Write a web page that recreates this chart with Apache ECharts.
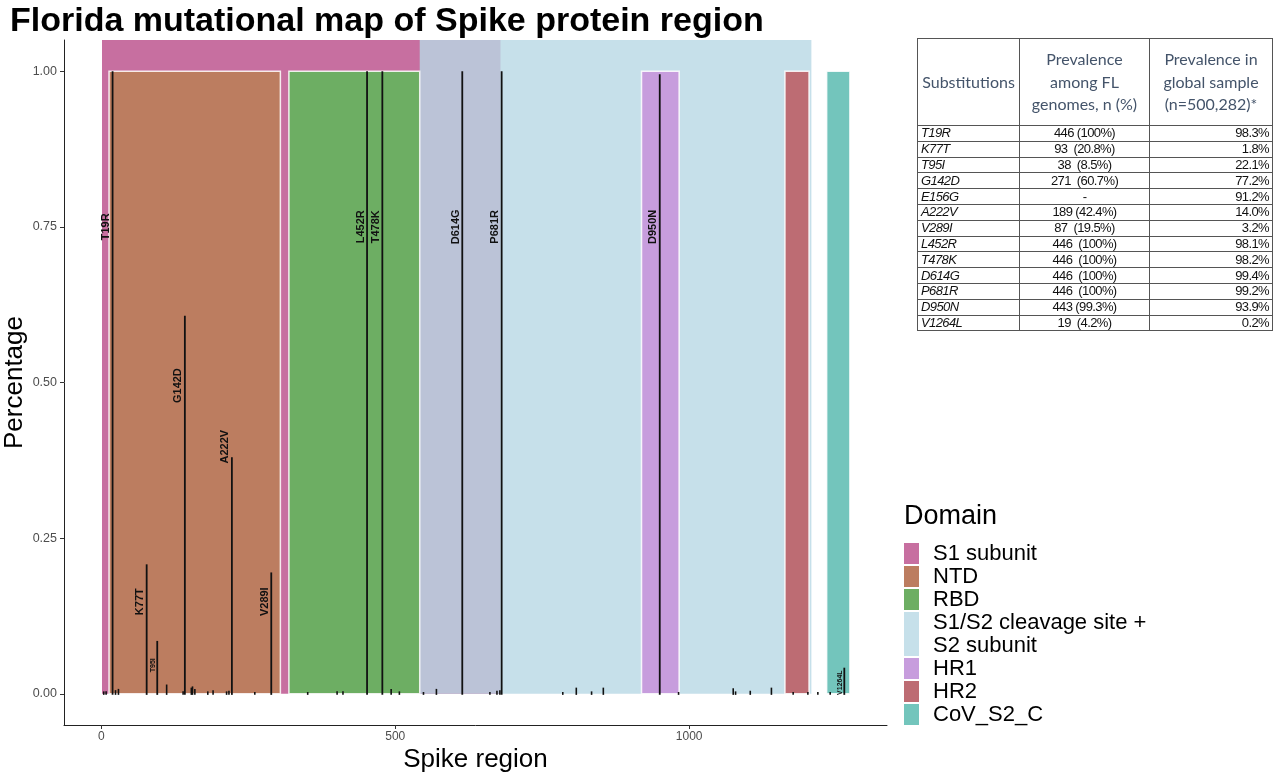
<!DOCTYPE html>
<html><head><meta charset="utf-8">
<script src="https://cdn.jsdelivr.net/npm/echarts@6/dist/echarts.min.js"></script>
<style>
html,body{margin:0;padding:0;background:#fff;}
#chart{position:absolute;left:0;top:0;width:1280px;height:780px;}
#tbl{position:absolute;left:917px;top:38px;border-collapse:collapse;table-layout:fixed;width:355px;}
#tbl td{border:1px solid #555;padding:0 3px;overflow:hidden;white-space:nowrap;}
#tbl tr.hd td{height:86px;font-family:Lato,"Open Sans",sans-serif;font-weight:400;font-size:16px;line-height:22.5px;color:#44546a;text-align:center;white-space:normal;}
#tbl tr.bd td{height:14.8px;font-family:"Liberation Sans Narrow","Liberation Sans",Arial,sans-serif;font-size:13px;letter-spacing:-0.6px;line-height:14px;color:#111;}
#tbl td.c1{font-style:italic;text-align:left;}
#tbl td.c2{text-align:center;}
#tbl td.c3{text-align:right;}
</style></head><body>
<div id="chart"></div>
<table id="tbl"></table>
<script>
// ---- data ----
const domainNames = ['S1 subunit', 'S1/S2 cleavage site + S2 subunit', 'NTD', 'RBD', 'HR1', 'HR2', 'CoV_S2_C'];
const domainStart = [1, 541.6, 13, 319, 919, 1163, 1234];
const domainEnd   = [679, 1208, 304.5, 541.6, 983, 1204, 1273.5];
const domainTop   = [1.05, 1.05, 1, 1, 1, 1, 1];

const mutLabels = ['T19R','K77T','T95I','G142D','A222V','V289I','L452R','T478K','D614G','P681R','D950N','V1264L'];
const mutPos    = [19, 77, 95, 142, 222, 289, 452, 478, 614, 681, 950, 1264];
const mutFreq   = [1.0, 0.208, 0.085, 0.607, 0.38, 0.195, 1.0, 1.0, 1.0, 1.0, 0.995, 0.042];
const mutLabelY = [0.75, 0.148, 0.046, 0.495, 0.397, 0.148, 0.75, 0.75, 0.75, 0.75, 0.75, 0.018];

const minorPos  = [4, 8, 24, 29, 111, 139, 153, 155, 159, 181, 190, 213, 217, 261, 351, 401, 411, 493, 507, 548, 570, 661, 673, 678, 785, 808, 834, 854, 982, 1075, 1079, 1104, 1140, 1177, 1202, 1219, 1240];
const minorFreq = [0.004, 0.004, 0.006, 0.008, 0.015, 0.004, 0.01, 0.012, 0.008, 0.004, 0.006, 0.004, 0.005, 0.003, 0.003, 0.004, 0.004, 0.008, 0.004, 0.003, 0.008, 0.003, 0.005, 0.006, 0.003, 0.01, 0.004, 0.01, 0.003, 0.009, 0.004, 0.005, 0.01, 0.003, 0.003, 0.003, 0.003];

const xTicks = [0, 500, 1000];
const yTicks = [0, 0.25, 0.5, 0.75, 1];

const legendNames = ['S1 subunit', 'NTD', 'RBD', 'S1/S2 cleavage site +\nS2 subunit', 'HR1', 'HR2', 'CoV_S2_C'];

const tblSubs   = ['T19R','K77T','T95I','G142D','E156G','A222V','V289I','L452R','T478K','D614G','P681R','D950N','V1264L'];
const tblFL     = ['446 (100%)','93  (20.8%)','38  (8.5%)','271  (60.7%)','-','189 (42.4%)','87  (19.5%)','446  (100%)','446  (100%)','446  (100%)','446  (100%)','443 (99.3%)','19  (4.2%)'];
const tblGlobal = ['98.3%','1.8%','22.1%','77.2%','91.2%','14.0%','3.2%','98.1%','98.2%','99.4%','99.2%','93.9%','0.2%'];

// ---- styles ----
const domainColors = ['#C76FA0', 'rgba(184,216,229,0.8)', '#BC7D60', '#6DAE63', '#C79DDD', '#BD6C73', '#73C5BC'];
const domainBorder = [false, false, true, true, true, true, true];
const legendColors = ['#C76FA0', '#BC7D60', '#6DAE63', '#C6E0EA', '#C79DDD', '#BD6C73', '#73C5BC'];
const FONT = '"Liberation Sans", Arial, Helvetica, sans-serif';

// ---- table ----
(function(){
  const t = document.getElementById('tbl');
  let h = '<colgroup><col style="width:102px"><col style="width:130px"><col style="width:123px"></colgroup>';
  h += '<tr class="hd"><td>Substitutions</td><td>Prevalence<br>among FL<br>genomes, n (%)</td><td>Prevalence in<br>global sample<br>(n=500,282)*</td></tr>';
  for (let i = 0; i < tblSubs.length; i++) {
    h += '<tr class="bd"><td class="c1">' + tblSubs[i] + '</td><td class="c2">' + tblFL[i].replace(/  /g,'&nbsp; ') + '</td><td class="c3">' + tblGlobal[i] + '</td></tr>';
  }
  t.innerHTML = h;
})();

// ---- chart ----
const chart = echarts.init(document.getElementById('chart'), null, {renderer: 'canvas'});

const domainData = domainNames.map((n, i) => [domainStart[i], domainEnd[i], domainTop[i], i]);
const mutData = mutPos.map((p, i) => [p, mutFreq[i], mutLabelY[i], i]);
const minorData = minorPos.map((p, i) => [p, minorFreq[i]]);

// legend graphics
const legendGraphics = [];
legendGraphics.push({type: 'text', left: 904, top: 503, style: {text: 'Domain', font: '27px ' + FONT, fill: '#000'}});
let ly = 542;
legendNames.forEach((n, i) => {
  const lines = n.split('\n').length;
  const h = 23 * lines;
  legendGraphics.push({type: 'rect', shape: {x: 904, y: ly + 1, width: 15, height: h - 2}, style: {fill: legendColors[i]}});
  legendGraphics.push({type: 'text', x: 933, y: ly + h / 2, style: {text: n, font: '22px ' + FONT, fill: '#000', verticalAlign: 'middle', lineHeight: 23}});
  ly += h;
});

const option = {
  animation: false,
  backgroundColor: '#fff',
  title: {text: 'Florida mutational map of Spike protein region', left: 5, top: 0,
    textStyle: {fontSize: 34, fontWeight: 'bold', color: '#000', fontFamily: FONT}},
  grid: {left: 64, right: 393, top: 40, bottom: 55, containLabel: false, outerBoundsMode: 'none'},
  xAxis: {
    type: 'value', min: -63.65, max: 1336.65, splitLine: {show: false},
    axisLine: {onZero: false, lineStyle: {color: '#222', width: 1}},
    axisTick: {customValues: xTicks, length: 4, lineStyle: {color: '#333'}},
    axisLabel: {customValues: xTicks, color: '#4d4d4d', fontSize: 12, margin: 6, fontFamily: FONT,
      formatter: v => String(Math.round(v))},
    name: 'Spike region', nameLocation: 'middle', nameGap: 22, nameMoveOverlap: false,
    nameTextStyle: {fontSize: 26, color: '#000', fontFamily: FONT}
  },
  yAxis: {
    type: 'value', min: -0.05, max: 1.05, splitLine: {show: false},
    axisLine: {onZero: false, lineStyle: {color: '#222', width: 1}},
    axisTick: {customValues: yTicks, length: 4, lineStyle: {color: '#333'}},
    axisLabel: {customValues: yTicks, color: '#4d4d4d', fontSize: 12.5, margin: 7, fontFamily: FONT,
      formatter: v => v.toFixed(2)},
    name: 'Percentage', nameLocation: 'middle', nameGap: 36, nameRotate: 90, nameMoveOverlap: false,
    nameTextStyle: {fontSize: 26, color: '#000', fontFamily: FONT}
  },
  graphic: legendGraphics,
  series: [
    {
      type: 'custom', name: 'domains', clip: false, silent: true,
      data: domainData, encode: {x: [0, 1], y: 2},
      renderItem: function (params, api) {
        const i = api.value(3);
        const a = api.coord([api.value(0), api.value(2)]);
        const b = api.coord([api.value(1), 0]);
        return {type: 'rect', shape: {x: a[0], y: a[1], width: b[0] - a[0], height: b[1] - a[1]},
          style: {fill: domainColors[i], stroke: domainBorder[i] ? 'rgba(255,255,255,0.85)' : null, lineWidth: domainBorder[i] ? 1.5 : 0}};
      }
    },
    {
      type: 'custom', name: 'minor', clip: false, silent: true,
      data: minorData, encode: {x: 0, y: 1},
      renderItem: function (params, api) {
        const a = api.coord([api.value(0), 0]);
        const b = api.coord([api.value(0), api.value(1)]);
        return {type: 'line', shape: {x1: a[0], y1: a[1] + 1, x2: b[0], y2: Math.min(b[1], a[1] - 1)},
          style: {stroke: '#111', lineWidth: 1.6}};
      }
    },
    {
      type: 'custom', name: 'mutations', clip: false, silent: true,
      data: mutData, encode: {x: 0, y: 1},
      renderItem: function (params, api) {
        const i = api.value(3);
        const v = api.value(1);
        const a = api.coord([api.value(0), 0]);
        const b = api.coord([api.value(0), v]);
        const l = api.coord([api.value(0), api.value(2)]);
        const small = v < 0.1;
        return {type: 'group', children: [
          {type: 'line', shape: {x1: a[0], y1: a[1] + 1, x2: b[0], y2: b[1]}, style: {stroke: '#111', lineWidth: 1.8}},
          {type: 'text', x: l[0] - 1, y: l[1], rotation: Math.PI / 2,
            style: {text: mutLabels[i], fill: '#111', font: 'bold ' + (small ? 7 : 11) + 'px ' + FONT,
              align: 'center', verticalAlign: 'bottom'}}
        ]};
      }
    }
  ]
};
chart.setOption(option);
</script>
</body></html>
